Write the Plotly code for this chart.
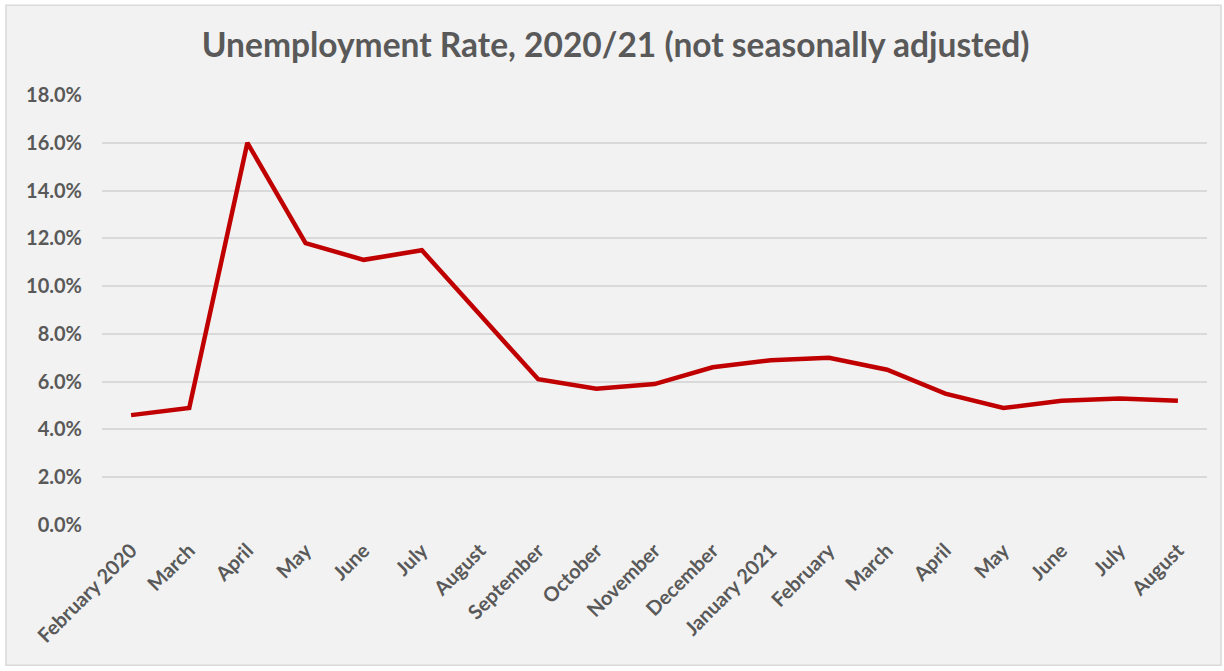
import plotly.graph_objects as go

# Monthly unemployment rate (%), not seasonally adjusted
months = ["February 2020", "March", "April", "May", "June", "July", "August",
          "September", "October", "November", "December", "January 2021",
          "February", "March", "April", "May", "June", "July", "August"]
rate = [4.6, 4.9, 16.0, 11.8, 11.1, 11.5, 8.8, 6.1, 5.7, 5.9, 6.6, 6.9,
        7.0, 6.5, 5.5, 4.9, 5.2, 5.3, 5.2]
y_ticks = [0, 2, 4, 6, 8, 10, 12, 14, 16, 18]
y_labels = [f"{v:.1f}%" for v in y_ticks]

positions = list(range(len(months)))

TEXT = "#595959"
FONT = "Lato"

fig = go.Figure()
fig.add_trace(go.Scatter(
    x=positions, y=rate, mode="lines",
    line=dict(color="#C00000", width=4.5),
    hoverinfo="skip", showlegend=False,
))

# chart area frame
fig.add_shape(type="rect", xref="paper", yref="paper",
              x0=-0.0869, x1=1.0127, y0=-0.326, y1=1.209,
              fillcolor="#f2f2f2", line=dict(color="#d9d9d9", width=1.5),
              layer="below")

fig.update_layout(
    width=1224, height=671,
    margin=dict(l=102, r=17, t=95, b=146),
    paper_bgcolor="white", plot_bgcolor="rgba(0,0,0,0)",
    title=dict(text="Unemployment Rate, 2020/21 (not seasonally adjusted)",
               x=0.503, xanchor="center", y=0.932, yanchor="middle",
               font=dict(family=FONT, size=33.5, color=TEXT, weight="bold")),
    xaxis=dict(
        range=[-0.5, len(months) - 0.5],
        tickvals=positions, ticktext=months, tickangle=-45,
        showgrid=False, zeroline=False, showline=False, ticks="",
        tickfont=dict(family=FONT, size=20, color=TEXT, weight="bold"),
        ticklabelstandoff=9,
    ),
    yaxis=dict(
        range=[0, 18], tickvals=y_ticks, ticktext=y_labels,
        showgrid=True, gridcolor="#d9d9d9", gridwidth=1.5,
        zeroline=False, showline=False, ticks="",
        tickfont=dict(family=FONT, size=20, color=TEXT, weight="bold"),
        ticklabelstandoff=19,
    ),
)

fig.write_html("out.html")
